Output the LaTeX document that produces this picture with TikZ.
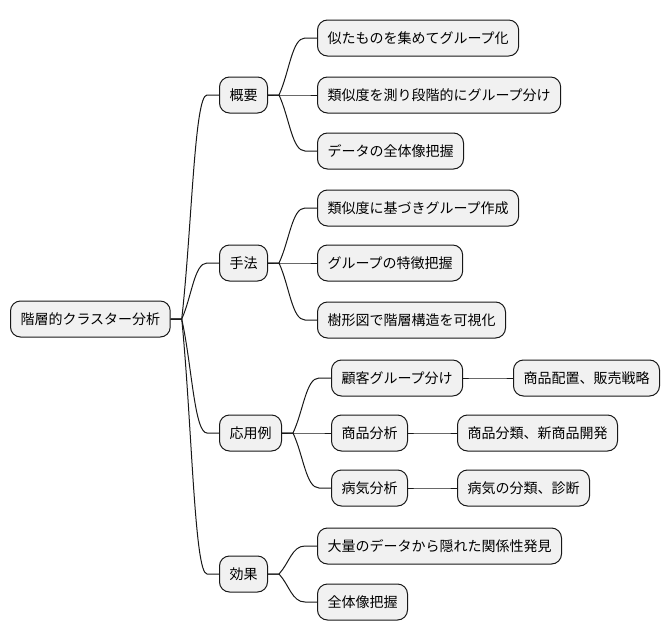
\documentclass[tikz,border=0pt]{standalone}
\usepackage{fontspec}
\setmainfont{Noto Sans CJK JP}
\usetikzlibrary{calc}
\definecolor{boxfill}{HTML}{F1F1F1}
\definecolor{boxline}{HTML}{181818}
\tikzset{
  mmbox/.style={draw=boxline, fill=boxfill, line width=1pt, rounded corners=10pt,
    anchor=west, inner xsep=10pt, inner ysep=0pt, minimum height=36pt,
    font=\fontsize{14}{16}\selectfont, text=black},
  edge/.style={draw=boxline, line width=1pt},
  mmcurve/.style={to path={let \p1=(\tikztostart), \p2=(\tikztotarget),
    \n1={\x2-\x1-23pt}, \n2={\y2-\y1} in
    -- (\x1+11pt,\y1) .. controls (\x1+11pt+0.4*\n1,\y1+0.4*\n2) and (\x1+11pt+0.5*\n1,\y2) ..
    (\x2-12pt,\y2) -- (\x2,\y2) \tikztonodes}}
}
\begin{document}
\begin{tikzpicture}[x=1pt,y=-1pt]
\useasboundingbox (0,0) rectangle (670,640);
\node[mmbox] (root) at (10,319) {階層的クラスター分析};
\node[mmbox] (gaiyou) at (219,95) {概要};
\node[mmbox] (shuho) at (219,263) {手法};
\node[mmbox] (ouyou) at (219,433) {応用例};
\node[mmbox] (kouka) at (219,574) {効果};
\node[mmbox] (a1) at (317,38) {似たものを集めてグループ化};
\node[mmbox] (a2) at (317,95) {類似度を測り段階的にグループ分け};
\node[mmbox] (a3) at (317,151) {データの全体像把握};
\node[mmbox] (b1) at (317,208) {類似度に基づきグループ作成};
\node[mmbox] (b2) at (317,263) {グループの特徴把握};
\node[mmbox] (b3) at (317,320) {樹形図で階層構造を可視化};
\node[mmbox] (c1) at (331,378) {顧客グループ分け};
\node[mmbox] (c2) at (331,433) {商品分析};
\node[mmbox] (c3) at (331,488) {病気分析};
\node[mmbox] (d1) at (513,378) {商品配置、販売戦略};
\node[mmbox] (d2) at (457,433) {商品分類、新商品開発};
\node[mmbox] (d3) at (457,488) {病気の分類、診断};
\node[mmbox] (e1) at (317,546) {大量のデータから隠れた関係性発見};
\node[mmbox] (e2) at (317,602) {全体像把握};
\foreach \p/\c in {root/gaiyou, root/shuho, root/ouyou, root/kouka,
  gaiyou/a1, gaiyou/a2, gaiyou/a3, shuho/b1, shuho/b2, shuho/b3,
  ouyou/c1, ouyou/c2, ouyou/c3, c1/d1, c2/d2, c3/d3, kouka/e1, kouka/e2}
  \draw[edge] (\p.east) to[mmcurve] (\c.west);
\end{tikzpicture}
\end{document}
